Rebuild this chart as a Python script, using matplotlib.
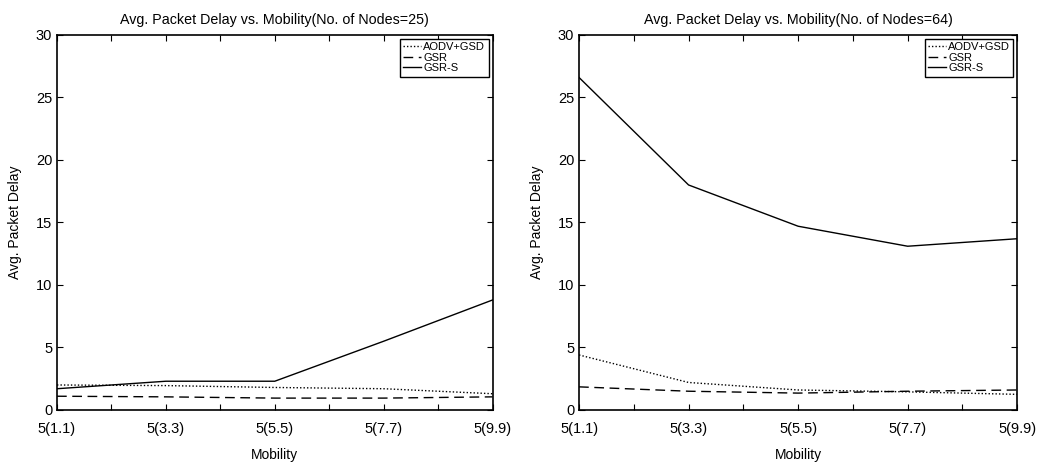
import matplotlib

matplotlib.use("Agg")
import matplotlib.pyplot as plt  # noqa: E402
import numpy as np  # noqa: E402

plt.rcParams["font.family"] = ["Liberation Sans", "DejaVu Sans"]

# mobility levels (x axis)
mobility = ["5(1.1)", "5(3.3)", "5(5.5)", "5(7.7)", "5(9.9)"]
series_names = ["AODV+GSD", "GSR", "GSR-S"]

# 25 nodes
aodv_25 = [2.0, 1.95, 1.8, 1.7, 1.3]
gsr_25 = [1.1, 1.05, 0.95, 0.95, 1.05]
gsrs_25 = [1.7, 2.3, 2.3, 5.5, 8.8]

# 64 nodes
aodv_64 = [4.4, 2.2, 1.6, 1.45, 1.25]
gsr_64 = [1.85, 1.5, 1.35, 1.5, 1.6]
gsrs_64 = [26.6, 18.0, 14.7, 13.1, 13.7]

STYLES = [(0, (1, 1.5)), (0, (7, 4)), "-"]


def draw(ax, data, nodes):
    x = np.arange(len(mobility))
    for vals, ls, name in zip(data, STYLES, series_names):
        ax.plot(x, vals, color="black", linestyle=ls, linewidth=1.0, label=name)
    ax.set_xlim(0, len(mobility) - 1)
    ax.set_ylim(0, 30)
    ax.set_xticks(x)
    ax.set_xticklabels(mobility)
    ax.set_xticks(np.arange(0.5, len(mobility) - 1, 1.0), minor=True)
    ax.set_yticks(np.arange(0, 31, 5))
    ax.tick_params(which="both", direction="in", top=True, right=True,
                   labelsize=10.5, length=4, width=0.8)
    ax.tick_params(axis="x", pad=9)
    for s in ax.spines.values():
        s.set_linewidth(1.2)
    ax.set_xlabel("Mobility", fontsize=10, labelpad=8)
    ax.set_ylabel("Avg. Packet Delay", fontsize=10, labelpad=10)
    ax.set_title(f"Avg. Packet Delay vs. Mobility(No. of Nodes={nodes})",
                 fontsize=10.3, pad=8)
    leg = ax.legend(loc="upper right", fontsize=8, handlelength=1.6,
                    handletextpad=0.2, labelspacing=0.05, borderpad=0.3,
                    borderaxespad=0.35, fancybox=False, edgecolor="black",
                    framealpha=1.0)
    leg.get_frame().set_linewidth(1.0)


fig = plt.figure(figsize=(10.42, 4.62), dpi=100)
ax1 = fig.add_axes([0.0547, 0.1126, 0.418, 0.8117])
ax2 = fig.add_axes([0.5557, 0.1126, 0.4205, 0.8117])
draw(ax1, [aodv_25, gsr_25, gsrs_25], 25)
draw(ax2, [aodv_64, gsr_64, gsrs_64], 64)
fig.savefig("out.png", dpi=100)
